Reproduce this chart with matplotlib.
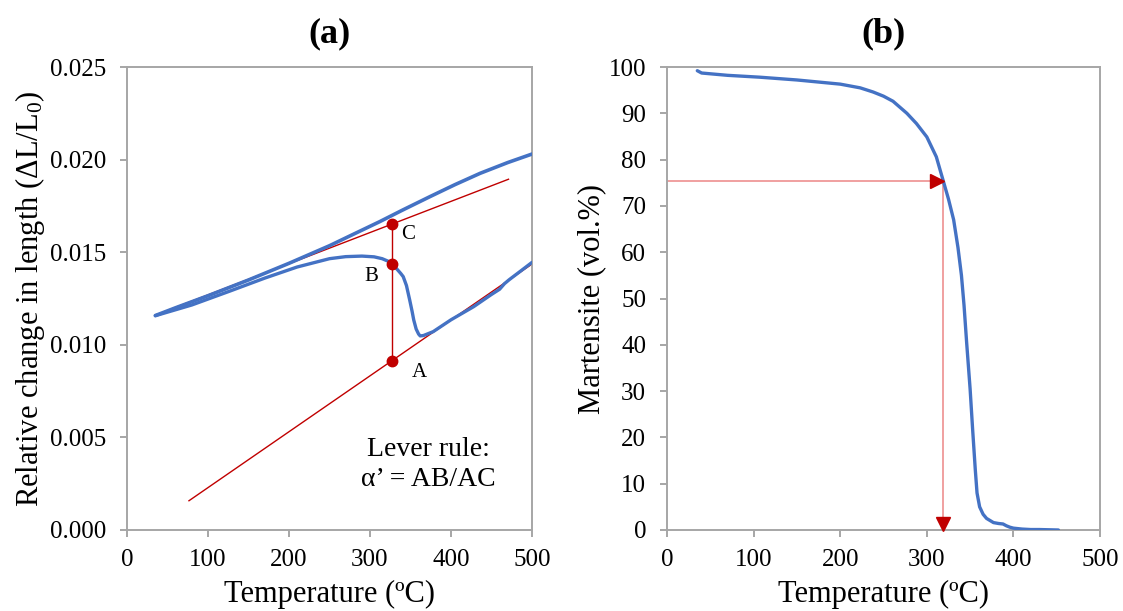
import matplotlib
matplotlib.use('Agg')
import matplotlib.pyplot as plt
from matplotlib.transforms import offset_copy

plt.rcParams['font.family'] = ['Liberation Serif', 'DejaVu Serif']
plt.rcParams['mathtext.fontset'] = 'custom'
plt.rcParams['mathtext.rm'] = 'Liberation Serif'
plt.rcParams['mathtext.it'] = 'Liberation Serif:italic'

# ---------------- data: panel (a) dilatometry ----------------
upper_T = [35, 60, 100, 150, 200, 250, 280, 312, 340, 374, 405, 436, 470, 500]
upper_dL = [0.01158, 0.01200, 0.01265, 0.01350, 0.01440, 0.01535, 0.01598, 0.01665,
            0.01727, 0.01800, 0.01865, 0.01926, 0.01984, 0.02030]

lower_T = [35, 80, 127, 170, 210, 250, 270, 290, 305, 315, 322, 327, 333, 338, 341, 345,
           349, 352, 354, 357, 360, 362, 366, 378, 400, 428, 450, 460, 466, 472, 485, 500]
lower_dL = [0.01157, 0.01215, 0.01290, 0.01360, 0.01420, 0.01465, 0.01476, 0.01479,
            0.01475, 0.01465, 0.01452, 0.01436, 0.01410, 0.01385, 0.01368, 0.01320,
            0.01242, 0.01180, 0.01134, 0.01085, 0.01058, 0.01048, 0.01050, 0.01071,
            0.01135, 0.01206, 0.01272, 0.01300, 0.01330, 0.01352, 0.01395, 0.01445]

# tangent lines (end points)
tan_up_T = [35, 471]
tan_up_dL = [0.01160, 0.01894]
tan_lo_T = [76.5, 500]
tan_lo_dL = [0.00158, 0.01436]

# lever-rule points at T = 327
lever_T = 327
lever_names = ['A', 'B', 'C']
lever_dL = [0.00913, 0.01436, 0.01650]

a_xticks = [0, 100, 200, 300, 400, 500]
a_yticks = [0.000, 0.005, 0.010, 0.015, 0.020, 0.025]
a_yticklabels = ['0.000', '0.005', '0.010', '0.015', '0.020', '0.025']

# ---------------- data: panel (b) martensite fraction ----------------
mart_T = [35, 40, 70, 107, 150, 200, 223, 238, 250, 261, 277, 288, 300, 311, 319, 325,
          331, 336, 340, 343, 346, 350, 353, 356, 358, 361, 365, 369, 377, 383, 388,
          392, 396, 400, 410, 420, 430, 452]
mart_V = [99.2, 98.7, 98.2, 97.8, 97.2, 96.3, 95.5, 94.6, 93.7, 92.6, 90.0, 87.8, 84.9,
          80.6, 75.4, 71.5, 67.0, 61.0, 55.0, 48.5, 40.5, 30.5, 21.5, 13.0, 8.0, 5.0,
          3.4, 2.5, 1.6, 1.4, 1.3, 0.9, 0.6, 0.4, 0.2, 0.1, 0.1, 0.0]

arrow_T = 319
arrow_V = 75.4

b_xticks = [0, 100, 200, 300, 400, 500]
b_yticks = [0, 10, 20, 30, 40, 50, 60, 70, 80, 90, 100]

# ---------------- styling ----------------
BLUE = '#4472C4'
DRED = '#C00000'
LRED = '#F0A0A0'
GRAY = '#A6A6A6'

W, H = 1123, 611
fig = plt.figure(figsize=(W / 100, H / 100), dpi=100)
axa = fig.add_axes([127 / W, 81 / H, 405 / W, 463 / H])
axb = fig.add_axes([667 / W, 81 / H, 433 / W, 463 / H])

for ax in (axa, axb):
    for s in ax.spines.values():
        s.set_color(GRAY)
        s.set_linewidth(1.4)
    ax.tick_params(direction='out', length=5, width=1.4, color=GRAY,
                   labelcolor='black', labelsize=18)
    ax.tick_params(axis='y', pad=10)
    ax.tick_params(axis='x', pad=9)

# ---- panel (a)
axa.plot(tan_up_T, tan_up_dL, color=DRED, lw=1.0, zorder=2)
axa.plot(tan_lo_T, tan_lo_dL, color=DRED, lw=1.0, zorder=2)
axa.plot(upper_T, upper_dL, color=BLUE, lw=2.6, solid_joinstyle='round',
         solid_capstyle='round', zorder=3)
axa.plot(lower_T, lower_dL, color=BLUE, lw=2.4, solid_joinstyle='round',
         solid_capstyle='round', zorder=3)
axa.plot([lever_T, lever_T], [min(lever_dL), max(lever_dL)], color=DRED, lw=1.0, zorder=4)
axa.plot([lever_T] * len(lever_dL), lever_dL, 'o', color=DRED, ms=7.5, zorder=5)

label_offsets = {'A': (20, -8), 'B': (-15, -9), 'C': (12, -7)}
for name, v in zip(lever_names, lever_dL):
    dx, dy = label_offsets[name]
    axa.annotate(name, (lever_T, v), xytext=(dx, dy), textcoords='offset points',
                 ha='center', va='center', fontsize=15)

axa.text(372, 0.00352, 'Lever rule:\nα’ = AB/AC', ha='center', va='center',
         fontsize=20, multialignment='center', linespacing=1.25)

axa.set_xlim(0, 500)
axa.set_ylim(0, 0.025)
axa.set_xticks(a_xticks)
axa.set_yticks(a_yticks)
axa.set_yticklabels(a_yticklabels)
axa.set_xlabel('Temperature (ºC)', fontsize=22, labelpad=6)
axa.set_ylabel('Relative change in length (ΔL/L$_0$)', fontsize=22, labelpad=2)
axa.set_title('(a)', fontsize=26, fontweight='bold', pad=18)

# ---- panel (b)
axb.plot(mart_T, mart_V, color=BLUE, lw=2.4, solid_joinstyle='round',
         solid_capstyle='round', zorder=3)
axb.plot([0, arrow_T], [arrow_V, arrow_V], color=LRED, lw=1.4, zorder=2)
axb.plot([arrow_T, arrow_T], [arrow_V, 0], color=LRED, lw=1.4, zorder=2)
tr_h = offset_copy(axb.transData, fig=fig, x=-4.2, y=0, units='points')
tr_v = offset_copy(axb.transData, fig=fig, x=0, y=4.2, units='points')
axb.plot([arrow_T], [arrow_V], marker='>', color=DRED, ms=10, transform=tr_h,
         zorder=4, clip_on=False)
axb.plot([arrow_T], [0], marker='v', color=DRED, ms=10, transform=tr_v,
         zorder=4, clip_on=False)

axb.set_xlim(0, 500)
axb.set_ylim(0, 100)
axb.set_xticks(b_xticks)
axb.set_yticks(b_yticks)
axb.set_xlabel('Temperature (ºC)', fontsize=22, labelpad=6)
axb.set_ylabel('Martensite (vol.%)', fontsize=22, labelpad=2)
axb.set_title('(b)', fontsize=26, fontweight='bold', pad=18)

fig.savefig('out.png', dpi=100)
